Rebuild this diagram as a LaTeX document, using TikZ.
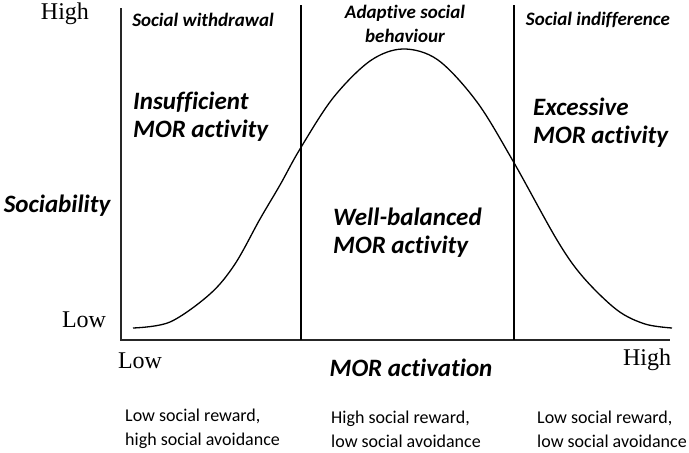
\documentclass[tikz,border=0pt]{standalone}
\usepackage{fontspec}
\setmainfont{Liberation Serif}
\newfontfamily\calib[Ligatures=NoCommon]{Carlito}
\begin{document}
\begin{tikzpicture}[x=1pt,y=-1pt,
  lab/.style={font=\calib\bfseries\itshape\fontsize{19}{24}\selectfont, inner sep=0pt, align=center},
  biglab/.style={font=\calib\bfseries\itshape\fontsize{25}{28}\selectfont, inner sep=0pt, align=left},
  axlab/.style={font=\calib\bfseries\itshape\fontsize{25}{28}\selectfont, inner sep=0pt},
  ser/.style={font=\fontsize{24}{26}\selectfont, inner sep=0pt},
  note/.style={font=\calib\fontsize{18}{24}\selectfont, inner sep=0pt, align=left},
  axis/.style={line width=1.6pt, draw=black!85},
  divl/.style={line width=1.6pt},
  curve/.style={line width=1.3pt}]
\useasboundingbox (0,0) rectangle (689,453);
% axes
\coordinate (ytop) at (121,8);
\coordinate (orig) at (121,340);
\coordinate (xend) at (670,340);
\coordinate (d1t) at (301,5);
\coordinate (d1b) at (301,340);
\coordinate (d2t) at (514,5);
\coordinate (d2b) at (514,340);
\draw[axis] (ytop) -- (orig) -- (xend);
\draw[divl] (d1t) -- (d1b);
\draw[divl] (d2t) -- (d2b);
% curve
\draw[curve] plot[smooth, tension=0.55] coordinates {(133,328) (170,322) (210,294) (235,264) (260,219) (280,185) (300,149) (333,98) (370,61) (403,49) (438,60) (477,102) (513,161) (557,240) (583,277) (617,310) (645,324) (672,328)};
% axis labels
\node[ser] (yhigh) at (65,14) {High};
\node[ser] (ylow) at (84,320) {Low};
\node[ser] (xlow) at (140,361) {Low};
\node[ser] (xhigh) at (647,360) {High};
\node[axlab] (ylab) at (57,206) {Sociability};
\node[axlab] (xlab) at (411,368) {MOR activation};
% region headers
\node[lab] (h1) at (203,20) {Social withdrawal};
\node[lab] (h2) at (405,24) {Adaptive social\\behaviour};
\node[lab] (h3) at (598,20) {Social indifference};
% region labels
\node[biglab, anchor=west] (r1) at (133,117) {Insufficient\\MOR activity};
\node[biglab, anchor=west] (r2) at (333,233) {Well-balanced\\MOR activity};
\node[biglab, anchor=west] (r3) at (533,123) {Excessive\\MOR activity};
% bottom notes
\node[note, anchor=west] (n1) at (125,429) {Low social reward,\\high social avoidance};
\node[note, anchor=west] (n2) at (331,429) {High social reward,\\low social avoidance};
\node[note, anchor=west] (n3) at (537,429) {Low social reward,\\low social avoidance};
\end{tikzpicture}
\end{document}
